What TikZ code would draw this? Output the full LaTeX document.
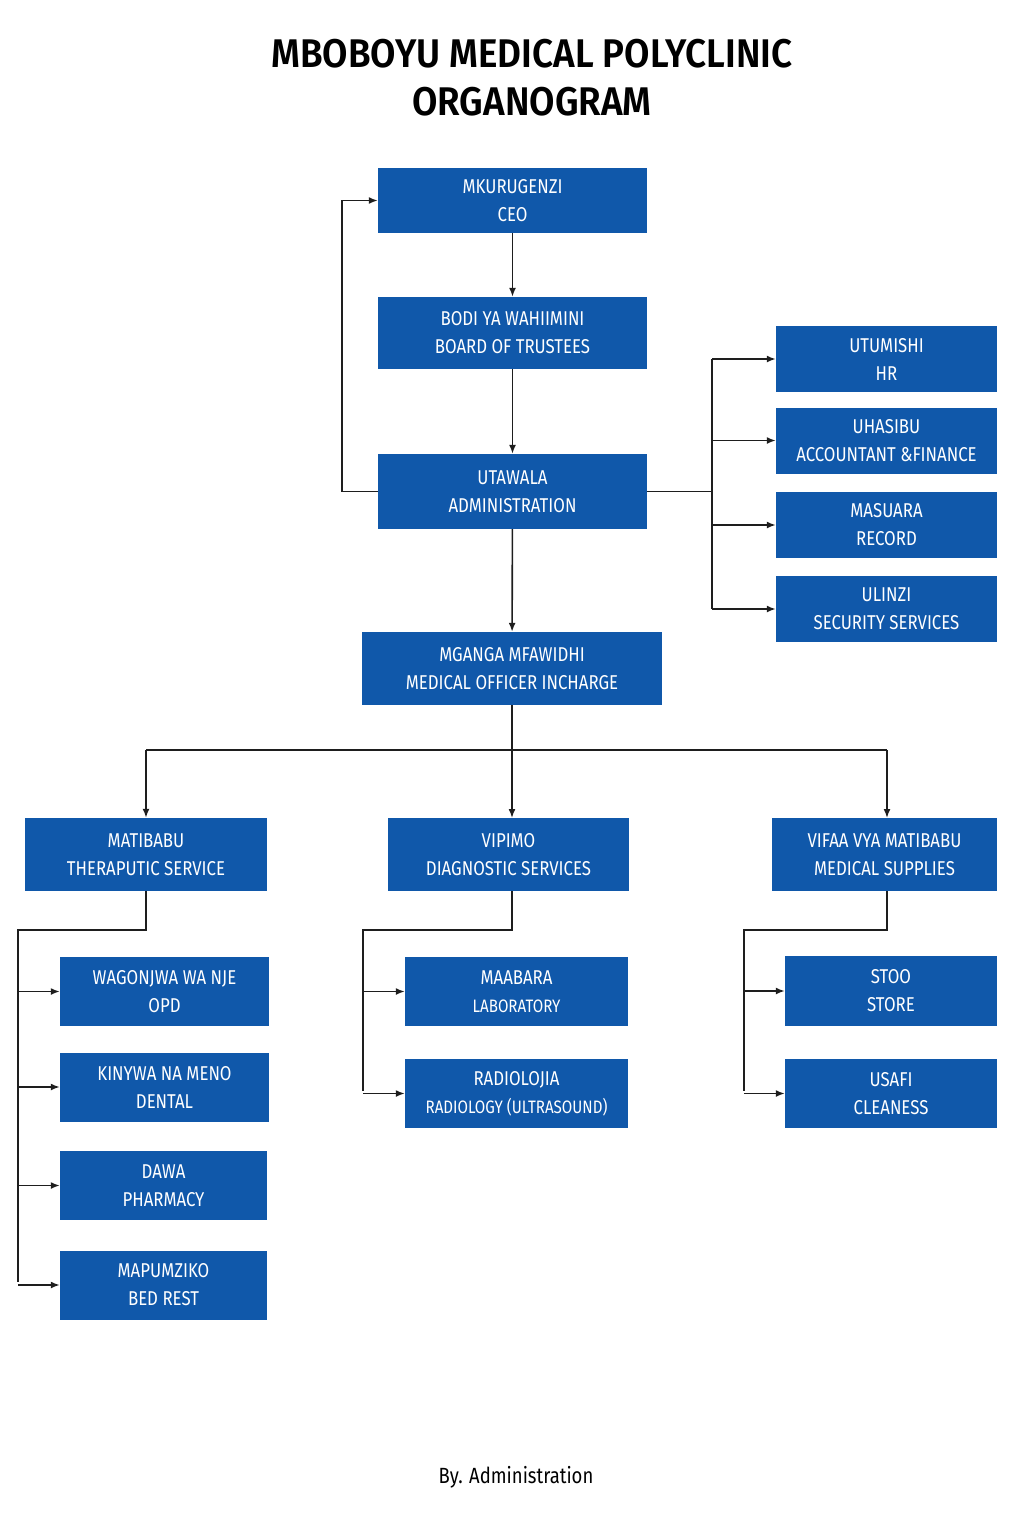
\documentclass[tikz,border=0pt]{standalone}
\usepackage{fontspec}
\setmainfont{Fira Sans}[FakeStretch=0.84]
\newfontfamily\titlefont{Fira Sans SemiBold}[FakeStretch=0.92]
\usetikzlibrary{arrows.meta}
\definecolor{BoxBlue}{RGB}{16,88,170}
\definecolor{LineGray}{RGB}{30,30,30}
\tikzset{>={Latex[width=7pt,length=9pt]}}
\tikzset{
  unit/.style={fill=BoxBlue,text=white,align=center,inner sep=0pt,
    font=\fontsize{20}{28}\selectfont},
  link/.style={draw=LineGray,line width=1.6pt},
}
\begin{document}
\begin{tikzpicture}[x=1pt,y=-1pt]
		\useasboundingbox (0,0) rectangle (1024,1536);

		% title
		\node[font=\titlefont\fontsize{40}{48}\selectfont,align=center] (title) at (532,78) {MBOBOYU MEDICAL POLYCLINIC\\ORGANOGRAM};

		% top chain
		\node[unit,minimum width=269,minimum height=65] (ceo) at (512.5,200.5) {MKURUGENZI\\CEO};
		\node[unit,minimum width=269,minimum height=72] (board) at (512.5,333) {BODI YA WAHIIMINI\\BOARD OF TRUSTEES};
		\node[unit,minimum width=269,minimum height=75] (admin) at (512.5,491.5) {UTAWALA\\ADMINISTRATION};
		\node[unit,minimum width=300,minimum height=73] (mo) at (512,668.5) {MGANGA MFAWIDHI\\MEDICAL OFFICER INCHARGE};

		% administration units
		\node[unit,minimum width=221,minimum height=66] (hr) at (886.5,359) {UTUMISHI\\HR};
		\node[unit,minimum width=221,minimum height=66] (acc) at (886.5,440.5) {UHASIBU\\ACCOUNTANT \&FINANCE};
		\node[unit,minimum width=221,minimum height=66] (rec) at (886.5,525) {MASUARA\\RECORD};
		\node[unit,minimum width=221,minimum height=66] (sec) at (886.5,609) {ULINZI\\SECURITY SERVICES};

		% services
		\node[unit,minimum width=242,minimum height=73] (ther) at (146,854.5) {MATIBABU\\THERAPUTIC SERVICE};
		\node[unit,minimum width=241,minimum height=73] (diag) at (508.5,854.5) {VIPIMO\\DIAGNOSTIC SERVICES};
		\node[unit,minimum width=225,minimum height=73] (sup) at (884.5,854.5) {VIFAA VYA MATIBABU\\MEDICAL SUPPLIES};

		% therapeutic units
		\node[unit,minimum width=209,minimum height=69] (opd) at (164.5,991.5) {WAGONJWA WA NJE\\OPD};
		\node[unit,minimum width=209,minimum height=69] (dent) at (164.5,1087) {KINYWA NA MENO\\DENTAL};
		\node[unit,minimum width=207,minimum height=69] (phar) at (163.5,1185.5) {DAWA\\PHARMACY};
		\node[unit,minimum width=207,minimum height=69] (bed) at (163.5,1285) {MAPUMZIKO\\BED REST};

		% diagnostic units
		\node[unit,minimum width=223,minimum height=69,font=\fontsize{18}{28}\selectfont] (lab) at (516.5,991.5) {\fontsize{20}{28}\selectfont MAABARA\\LABORATORY};
		\node[unit,minimum width=223,minimum height=69,font=\fontsize{18}{28}\selectfont] (rad) at (516.5,1093.5) {\fontsize{20}{28}\selectfont RADIOLOJIA\\RADIOLOGY (ULTRASOUND)};

		% supplies units
		\node[unit,minimum width=212,minimum height=70] (store) at (891,991) {STOO\\STORE};
		\node[unit,minimum width=212,minimum height=69] (clean) at (891,1093.5) {USAFI\\CLEANESS};

		% footer
		\node[font=\fontsize{22}{26}\selectfont] (by) at (516,1477) {By. Administration};

		% top chain links
		\draw[link,->] (ceo) -- (board);
		\draw[link,->] (board) -- (admin);
		\draw[link,->] (admin) -- (mo);
		\draw[link,->] (admin.west) -- ++(-36,0) |- (ceo.west);

		% administration bus
		\draw[link] (admin.east) -- (712,491.5);
		\draw[link] (712,359) -- (712,609);
		\foreach \u in {hr,acc,rec,sec}
			\draw[link,->] (712,0 |- \u.west) -- (\u.west);

		% services bus
		\draw[link] (mo.south) -- (512,750);
		\draw[link] (146,750) -- (887,750);
		\draw[link,->] (146,750) -- (ther.north);
		\draw[link,->] (512,750) -- (512,818);
		\draw[link,->] (887,750) -- (887,818);

		% therapeutic branch
		\draw[link] (ther.south) -- (146,930) -- (18,930) -- (18,1282);
		\foreach \u in {opd,dent,phar,bed}
			\draw[link,->] (18,0 |- \u.west) -- (\u.west);

		% diagnostic branch
		\draw[link] (512,891) -- (512,930) -- (363,930) -- (363,1091);
		\foreach \u in {lab,rad}
			\draw[link,->] (363,0 |- \u.west) -- (\u.west);

		% supplies branch
		\draw[link] (887,891) -- (887,930) -- (744,930) -- (744,1091);
		\foreach \u in {store,clean}
			\draw[link,->] (744,0 |- \u.west) -- (\u.west);

	\end{tikzpicture}
\end{document}
